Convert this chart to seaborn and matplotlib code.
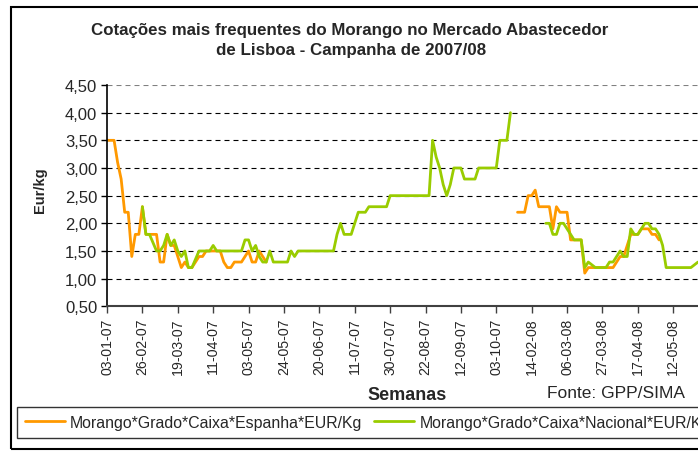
import numpy as np
import pandas as pd
import matplotlib
matplotlib.use("Agg")
import matplotlib.pyplot as plt
import seaborn as sns
from matplotlib.patches import Rectangle

nan = np.nan

# ---- data ----
tick_labels = ["03-01-07", "26-02-07", "19-03-07", "11-04-07", "03-05-07", "24-05-07",
               "20-06-07", "11-07-07", "30-07-07", "22-08-07", "12-09-07", "03-10-07",
               "14-02-08", "06-03-08", "27-03-08", "17-04-08", "12-05-08"]
ytick_values = [0.5, 1.0, 1.5, 2.0, 2.5, 3.0, 3.5, 4.0, 4.5]
ytick_labels = ["0,50", "1,00", "1,50", "2,00", "2,50", "3,00", "3,50", "4,00", "4,50"]

espanha = ([3.5, 3.5, 3.5, 3.1, 2.8, 2.2, 2.2, 1.4, 1.8, 1.8,
            2.3, 1.8, 1.8, 1.8, 1.8, 1.3, 1.3, 1.8, 1.6, 1.6,
            1.4, 1.2, 1.3, 1.2, 1.2, 1.3, 1.4, 1.4, 1.5, 1.5,
            1.5, 1.5, 1.5, 1.3, 1.2, 1.2, 1.3, 1.3, 1.3, 1.4,
            1.5, 1.3, 1.3, 1.5, 1.4, 1.3]
           + [nan] * 70
           + [2.2, 2.2, 2.2, 2.5, 2.5, 2.6, 2.3, 2.3, 2.3, 2.3,
              1.9, 2.3, 2.2, 2.2, 2.2, 1.7, 1.7, 1.7, 1.7, 1.1,
              1.2, 1.2, 1.2, 1.2, 1.2, 1.2, 1.2, 1.2, 1.3, 1.4,
              1.4, 1.6, 1.8, 1.8, 1.8, 1.9, 1.9, 1.9, 1.8, 1.8,
              1.7]
           + [nan] * 11)

nacional = ([nan] * 10
            + [2.3, 1.8, 1.8, 1.65, 1.5, 1.5, 1.6, 1.8, 1.6, 1.7,
               1.5, 1.4, 1.5, 1.2, 1.2, 1.35, 1.5, 1.5, 1.5, 1.5,
               1.6, 1.5, 1.5, 1.5, 1.5, 1.5, 1.5, 1.5, 1.5, 1.7,
               1.7, 1.5, 1.6, 1.4, 1.3, 1.3, 1.5, 1.3, 1.3, 1.3,
               1.3, 1.3, 1.5, 1.4, 1.5, 1.5, 1.5, 1.5, 1.5, 1.5,
               1.5, 1.5, 1.5, 1.5, 1.5, 1.8, 2.0, 1.8, 1.8, 1.8,
               2.0, 2.2, 2.2, 2.2, 2.3, 2.3, 2.3, 2.3, 2.3, 2.3,
               2.5, 2.5, 2.5, 2.5, 2.5, 2.5, 2.5, 2.5, 2.5, 2.5,
               2.5, 2.5, 3.5, 3.2, 3.0, 2.7, 2.5, 2.7, 3.0, 3.0,
               3.0, 2.8, 2.8, 2.8, 2.8, 3.0, 3.0, 3.0, 3.0, 3.0,
               3.0, 3.5, 3.5, 3.5, 4.0]
            + [nan] * 9
            + [2.0, 2.0, 1.8, 1.8, 2.0, 2.0, 1.9, 1.8, 1.7, 1.7,
               1.7, 1.2, 1.3, 1.25, 1.2, 1.2, 1.2, 1.2, 1.3, 1.3,
               1.4, 1.5, 1.4, 1.4, 1.9, 1.8, 1.8, 1.9, 2.0, 2.0,
               1.9, 1.9, 1.8, 1.6, 1.2, 1.2, 1.2, 1.2, 1.2, 1.2,
               1.2, 1.2, 1.25, 1.3])

series_names = ["Morango*Grado*Caixa*Espanha*EUR/Kg",
                "Morango*Grado*Caixa*Nacional*EUR/Kg"]
colors = ["#FF9900", "#99CC00"]

n = len(nacional)
semana = np.arange(n)
df = pd.concat([
    pd.DataFrame({"semana": semana, "preco": espanha, "serie": series_names[0]}),
    pd.DataFrame({"semana": semana, "preco": nacional, "serie": series_names[1]}),
])
# segment ids so lines break at gaps
df["seg"] = df.groupby("serie")["preco"].transform(lambda s: s.isna().cumsum())
df = df.dropna(subset=["preco"])
df["unit"] = df["serie"] + "_" + df["seg"].astype(str)

# ---- figure ----
sns.set_theme(style="white")
plt.rcParams["font.family"] = ["Liberation Sans", "DejaVu Sans"]

W, H = 698, 452
fig = plt.figure(figsize=(W / 100, H / 100), dpi=100)
fig.patch.set_facecolor("white")

def fx(px):
    return px / W

def fy(py):
    return 1 - py / H

ax_left, ax_right, ax_top, ax_bot = 107, 698, 86, 307.3
ax = fig.add_axes([fx(ax_left), fy(ax_bot), (ax_right - ax_left) / W, (ax_bot - ax_top) / H])

sns.lineplot(data=df, x="semana", y="preco", hue="serie", units="unit", estimator=None,
             palette=dict(zip(series_names, colors)), hue_order=series_names,
             linewidth=2.0, ax=ax, legend=False, sort=True)

ax.set_xlim(0, n - 1)
ax.set_ylim(0.5, 4.5)
ax.set_yticks(ytick_values)
ax.set_yticklabels(ytick_labels, fontsize=12)
ax.set_xticks(np.arange(len(tick_labels)) * 10)
ax.set_xticklabels(tick_labels, rotation=90, fontsize=10.2)
ax.set_xlabel("")
ax.set_ylabel("")
for v in ytick_values[1:]:
    ax.axhline(v, color="black" if v < 4.5 else "#808080", lw=0.8,
               linestyle=(0, (4.5, 3.6)), zorder=0.5)

for s in ["top", "right"]:
    ax.spines[s].set_visible(False)
ax.spines["left"].set_color("black")
ax.spines["left"].set_linewidth(1.2)
ax.spines["bottom"].set_color("#404040")
ax.spines["bottom"].set_linewidth(1.5)
ax.tick_params(axis="y", direction="out", length=4, width=1, color="black", pad=3, left=True)
ax.tick_params(axis="x", direction="out", length=5, width=1, color="#404040", pad=3, bottom=True)
ax.set_facecolor("white")

# titles / labels
fig.text(fx(350), fy(31), "Cotações mais frequentes do Morango no Mercado Abastecedor",
         ha="center", va="center", fontsize=12.2, fontweight="bold")
fig.text(fx(351), fy(50), "de Lisboa - Campanha de 2007/08",
         ha="center", va="center", fontsize=12.2, fontweight="bold")
fig.text(fx(40), fy(190), "Eur/kg", rotation=90, ha="center", va="center",
         fontsize=10.5, fontweight="bold")
fig.text(fx(407), fy(396), "Semanas", ha="center", va="center", fontsize=13, fontweight="bold")
fig.text(fx(547), fy(394), "Fonte: GPP/SIMA", ha="left", va="center", fontsize=12.5)

# outer chart border (cut off at the right, as in the source)
fig.patches.append(Rectangle((fx(11), fy(450)), 1.2, fy(8) - fy(450), transform=fig.transFigure,
                             fill=False, edgecolor="black", lw=1.5))

# legend
leg_lines = [plt.Line2D([], [], color=c, lw=2.0) for c in colors]
leg = fig.legend(leg_lines, series_names, loc="upper left",
                 bbox_to_anchor=(fx(17), fy(408)), ncol=2, fontsize=11.4,
                 frameon=True, fancybox=False, shadow=False, borderpad=0.5,
                 handlelength=2.5, handletextpad=0.35, columnspacing=0.75,
                 borderaxespad=0)
leg.get_frame().set_edgecolor("black")
leg.get_frame().set_linewidth(1.0)

fig.savefig("out.png", dpi=100)
